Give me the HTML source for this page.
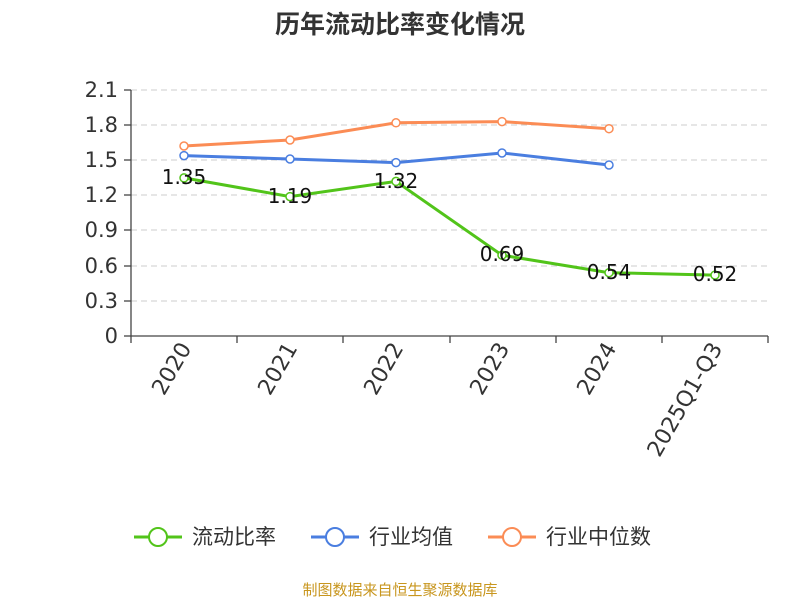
<!DOCTYPE html>
<html><head><meta charset="utf-8"><style>
body{margin:0;background:#fff}
text{font-family:"DejaVu Sans","Noto Sans CJK SC",sans-serif}
</style></head><body>
<svg width="800" height="600" xmlns="http://www.w3.org/2000/svg">
<text x="400" y="33" text-anchor="middle" font-size="25" font-weight="bold" fill="#333" style="font-family:'Noto Sans CJK SC',sans-serif">历年流动比率变化情况</text>
<g stroke="#ccc" stroke-dasharray="6,4" stroke-width="1">
<line x1="131" x2="768" y1="90" y2="90"/><line x1="131" x2="768" y1="125" y2="125"/>
<line x1="131" x2="768" y1="160" y2="160"/><line x1="131" x2="768" y1="195" y2="195"/>
<line x1="131" x2="768" y1="230" y2="230"/><line x1="131" x2="768" y1="266" y2="266"/>
<line x1="131" x2="768" y1="301" y2="301"/>
</g>
<g stroke="#444" stroke-width="1.3">
<line x1="131" x2="131" y1="90" y2="336"/><line x1="131" x2="768" y1="336" y2="336"/>
<line x1="124" x2="131" y1="90" y2="90"/><line x1="124" x2="131" y1="125" y2="125"/><line x1="124" x2="131" y1="160" y2="160"/><line x1="124" x2="131" y1="195" y2="195"/><line x1="124" x2="131" y1="230" y2="230"/><line x1="124" x2="131" y1="266" y2="266"/><line x1="124" x2="131" y1="301" y2="301"/><line x1="124" x2="131" y1="336" y2="336"/>
<line x1="131" x2="131" y1="336" y2="343"/><line x1="237" x2="237" y1="336" y2="343"/><line x1="343" x2="343" y1="336" y2="343"/><line x1="450" x2="450" y1="336" y2="343"/><line x1="556" x2="556" y1="336" y2="343"/><line x1="662" x2="662" y1="336" y2="343"/><line x1="768" x2="768" y1="336" y2="343"/>
</g>
<g font-size="21" fill="#333" text-anchor="end">
<text x="118" y="97">2.1</text><text x="118" y="132">1.8</text><text x="118" y="167">1.5</text><text x="118" y="202">1.2</text><text x="118" y="237">0.9</text><text x="118" y="273">0.6</text><text x="118" y="308">0.3</text><text x="118" y="343">0</text>
</g>
<g font-size="22" fill="#333" text-anchor="end">
<text transform="translate(192,348) rotate(-60)">2020</text>
<text transform="translate(298,348) rotate(-60)">2021</text>
<text transform="translate(404,348) rotate(-60)">2022</text>
<text transform="translate(510,348) rotate(-60)">2023</text>
<text transform="translate(617,348) rotate(-60)">2024</text>
<text transform="translate(723,348) rotate(-60)">2025Q1-Q3</text>
</g>
<polyline fill="none" stroke="#4a7ee0" stroke-width="3" points="184,155.6 290,159 396,162.6 502,153 609,165"/>
<polyline fill="none" stroke="#fb8c55" stroke-width="3" points="184,146 290,140 396,122.8 502,121.6 609,128.7"/>
<polyline fill="none" stroke="#52c41a" stroke-width="3" points="184,177.9 290,196.6 396,181.4 502,255.2 609,272.7 715,275.1"/>
<g fill="#fff" stroke-width="1.5">
<g stroke="#4a7ee0"><circle cx="184" cy="155.6" r="4"/><circle cx="290" cy="159" r="4"/><circle cx="396" cy="162.6" r="4"/><circle cx="502" cy="153" r="4"/><circle cx="609" cy="165" r="4"/></g>
<g stroke="#fb8c55"><circle cx="184" cy="146" r="4"/><circle cx="290" cy="140" r="4"/><circle cx="396" cy="122.8" r="4"/><circle cx="502" cy="121.6" r="4"/><circle cx="609" cy="128.7" r="4"/></g>
<g stroke="#52c41a"><circle cx="184" cy="177.9" r="4"/><circle cx="290" cy="196.6" r="4"/><circle cx="396" cy="181.4" r="4"/><circle cx="502" cy="255.2" r="4"/><circle cx="609" cy="272.7" r="4"/><circle cx="715" cy="275.1" r="4"/></g>
</g>
<g font-size="20" fill="#111" text-anchor="middle">
<text x="184" y="184">1.35</text><text x="290" y="203">1.19</text><text x="396" y="188">1.32</text><text x="502" y="261">0.69</text><text x="609" y="279">0.54</text><text x="715" y="281">0.52</text>
</g>
<g stroke-width="3" fill="#fff">
<line x1="134" x2="182" y1="537" y2="537" stroke="#52c41a"/><circle cx="158" cy="537" r="9" stroke="#52c41a" stroke-width="2"/>
<line x1="311" x2="359" y1="537" y2="537" stroke="#4a7ee0"/><circle cx="335" cy="537" r="9" stroke="#4a7ee0" stroke-width="2"/>
<line x1="488" x2="536" y1="537" y2="537" stroke="#fb8c55"/><circle cx="512" cy="537" r="9" stroke="#fb8c55" stroke-width="2"/>
</g>
<g font-size="21" fill="#333">
<text x="192" y="544">流动比率</text><text x="369" y="544">行业均值</text><text x="546" y="544">行业中位数</text>
</g>
<text x="400" y="595" text-anchor="middle" font-size="15" fill="#c8961e">制图数据来自恒生聚源数据库</text>
</svg>
</body></html>
